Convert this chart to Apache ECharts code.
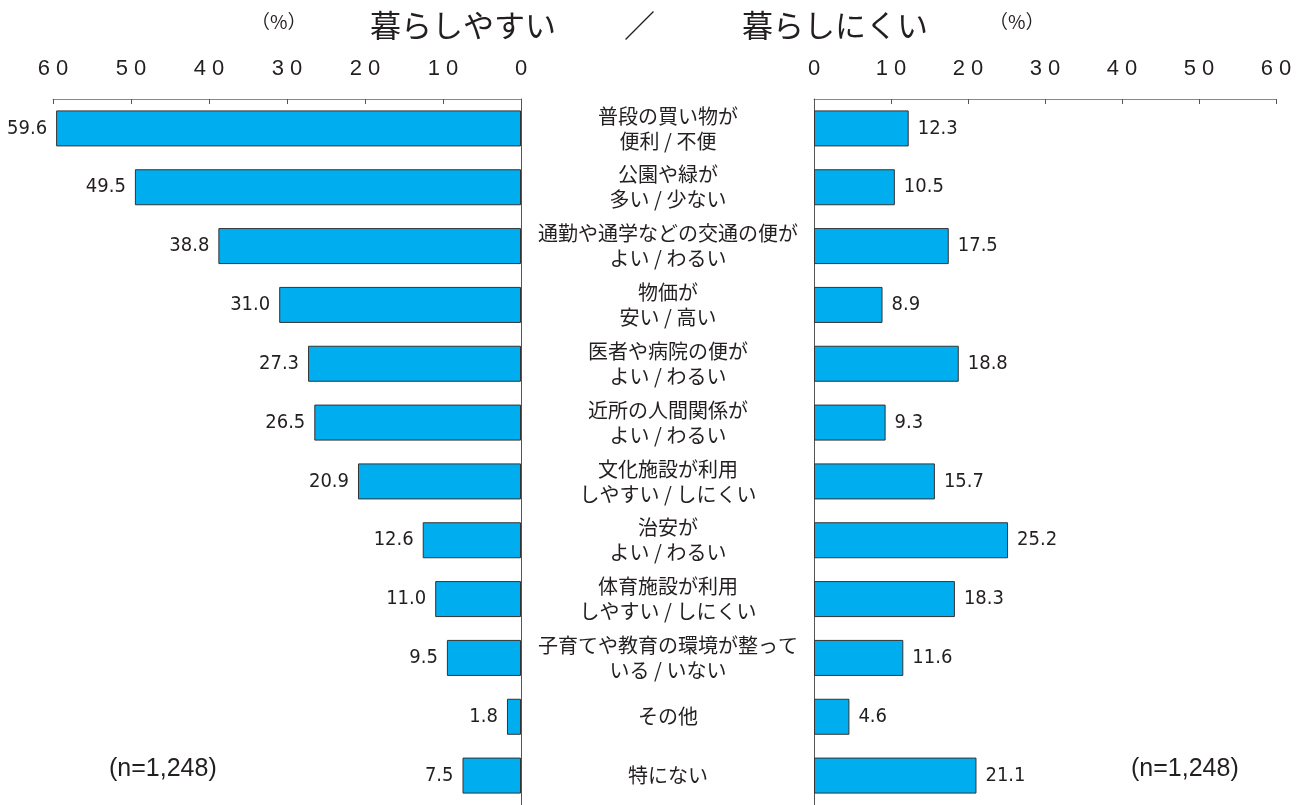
<!DOCTYPE html>
<html><head><meta charset="utf-8">
<script src="https://cdn.jsdelivr.net/npm/echarts@6/dist/echarts.min.js"></script>
<style>html,body{margin:0;padding:0;background:#fff}#c{width:1308px;height:805px}</style>
</head><body><div id="c"></div>
<script>
const categories = ['普段の買い物が\n便利 / 不便', '公園や緑が\n多い / 少ない', '通勤や通学などの交通の便が\nよい / わるい', '物価が\n安い / 高い', '医者や病院の便が\nよい / わるい', '近所の人間関係が\nよい / わるい', '文化施設が利用\nしやすい / しにくい', '治安が\nよい / わるい', '体育施設が利用\nしやすい / しにくい', '子育てや教育の環境が整って\nいる / いない', 'その他', '特にない'];
const easyValues = [59.6, 49.5, 38.8, 31.0, 27.3, 26.5, 20.9, 12.6, 11.0, 9.5, 1.8, 7.5];
const hardValues = [12.3, 10.5, 17.5, 8.9, 18.8, 9.3, 15.7, 25.2, 18.3, 11.6, 4.6, 21.1];
const tickLabels = ['0', '10', '20', '30', '40', '50', '60'];

const jp = '"Noto Sans CJK JP", "Noto Sans", sans-serif';
const num = '"DejaVu Sans Condensed", "Liberation Sans Narrow", "Liberation Sans", sans-serif';
const txt = '#231f20';
const chart = echarts.init(document.getElementById('c'));
const spaced = v => { const s = tickLabels[Math.round(v / 10)] || String(v); return s.split('').join(' '); };
const xAxisBase = {
  type: 'value', min: 0, max: 60, interval: 10, position: 'top',
  axisLine: { show: true, lineStyle: { color: '#888', width: 1 } },
  axisTick: { show: true, inside: true, length: 5, lineStyle: { color: '#555' } },
  splitLine: { show: false },
  axisLabel: { formatter: spaced, fontSize: 22, color: txt, fontFamily: 'Arial, "Liberation Sans", sans-serif', margin: 19 }
};
const barStyle = { color: '#00aeef', borderColor: '#333', borderWidth: 1 };
const lbl = { show: true, fontSize: 20, color: txt, fontFamily: num, distance: 9, formatter: p => p.value.toFixed(1) };
const tStyle = s => ({ fontSize: s, fontWeight: 'normal', color: txt, fontFamily: jp });
chart.setOption({
  animation: false,
  title: [
    { text: '暮らしやすい', left: 365, top: 5, textStyle: tStyle(31) },
    { text: '／', left: 619, top: 5, textStyle: tStyle(31) },
    { text: '暮らしにくい', left: 737, top: 5, textStyle: tStyle(31) },
    { text: '（%）', left: 246, top: 7, textStyle: tStyle(19) },
    { text: '（%）', left: 984, top: 7, textStyle: tStyle(19) },
    { text: '(n=1,248)', left: 104, top: 752, textStyle: { fontSize: 25, fontWeight: 'normal', color: txt, fontFamily: 'Arial, "Liberation Sans", sans-serif' } },
    { text: '(n=1,248)', left: 1126, top: 752, textStyle: { fontSize: 25, fontWeight: 'normal', color: txt, fontFamily: 'Arial, "Liberation Sans", sans-serif' } }
  ],
  grid: [
    { left: 53, right: 787, top: 99, bottom: 0 },
    { left: 814, right: 32, top: 99, bottom: 0 }
  ],
  xAxis: [
    Object.assign({}, xAxisBase, { gridIndex: 0, inverse: true }),
    Object.assign({}, xAxisBase, { gridIndex: 1 })
  ],
  yAxis: [
    { type: 'category', gridIndex: 0, data: categories, inverse: true, position: 'right',
      axisLine: { show: true, lineStyle: { color: '#555' } }, axisTick: { show: false },
      axisLabel: { show: true, align: 'center', margin: 147, fontSize: 20, lineHeight: 25, color: txt, fontFamily: jp } },
    { type: 'category', gridIndex: 1, data: categories, inverse: true, position: 'left',
      axisLine: { show: true, lineStyle: { color: '#555' } }, axisTick: { show: false },
      axisLabel: { show: false } }
  ],
  series: [
    { type: 'bar', xAxisIndex: 0, yAxisIndex: 0, data: easyValues, barWidth: 36, itemStyle: barStyle,
      label: Object.assign({}, lbl, { position: 'left' }) },
    { type: 'bar', xAxisIndex: 1, yAxisIndex: 1, data: hardValues, barWidth: 36, itemStyle: barStyle,
      label: Object.assign({}, lbl, { position: 'right' }) }
  ]
});
</script></body></html>
